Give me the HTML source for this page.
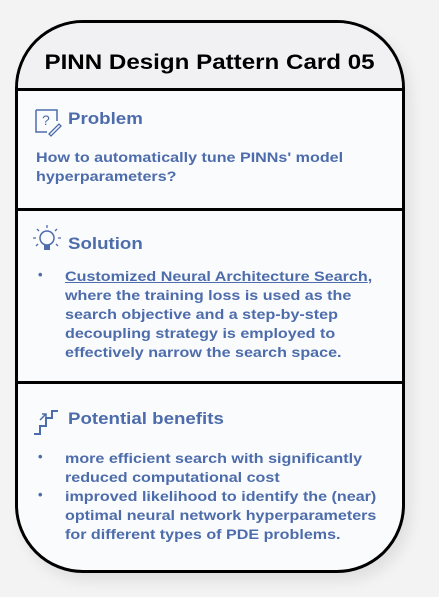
<!DOCTYPE html>
<html><head><meta charset="utf-8"><style>
body{margin:0;width:439px;height:597px;background:#f3f3f3;font-family:"Liberation Sans",Arial,sans-serif;position:relative;overflow:hidden}
.card{position:absolute;left:15px;top:20px;width:384px;height:547px;border:3px solid #000;border-radius:68px;background:#fafbfd;box-shadow:6px 8px 14px rgba(0,0,0,0.08);overflow:hidden}
.title{position:absolute;left:0;width:100%;top:0;height:65px;background:#f1f1f3;border-bottom:3px solid #000;text-align:center;font-weight:bold;font-size:21px;line-height:80px;color:#000}
.title span{display:inline-block;transform:scaleX(1.15)}
.div{position:absolute;left:0;width:100%;border-top:3px solid #000}
.h{position:absolute;left:50px;font-weight:bold;font-size:17px;color:#4d6cab;transform:scaleX(1.1);transform-origin:left}
.t{position:absolute;font-weight:bold;font-size:14px;line-height:19px;color:#4d6cab;white-space:nowrap;transform:scaleX(1.15);transform-origin:left}
.b{position:absolute;left:20px;font-weight:bold;font-size:13px;color:#4d6cab}
svg{position:absolute}
</style></head><body>
<div class="card">
<div class="title"><span>PINN Design Pattern Card 05</span></div>
<svg style="left:15px;top:84px" width="30" height="30" viewBox="0 0 30 30"><path d="M3 3H24V14M3 3V25H14" fill="none" stroke="#4d6cab" stroke-width="1.5"/><text x="9" y="18" font-size="14" fill="#4d6cab" font-family="Liberation Sans">?</text><path d="M16 27L26 17L28 19L18 29Z" fill="none" stroke="#4d6cab" stroke-width="1.3"/></svg>
<div class="h" style="top:86px">Problem</div>
<div class="t" style="left:18px;top:125px">How to automatically tune PINNs' model<br>hyperparameters?</div>
<div class="div" style="top:185px"></div>
<svg style="left:13px;top:200px" width="32" height="40" viewBox="0 0 32 40"><circle cx="16" cy="15" r="7" fill="none" stroke="#4d6cab" stroke-width="1.5"/><rect x="13" y="22" width="6" height="5" fill="#4d6cab"/><path d="M16 2V5M6 6L8 8M26 6L24 8M2 15H5M27 15H30M5 23L7 21M27 23L25 21" stroke="#4d6cab" stroke-width="1.3"/></svg>
<div class="h" style="top:211px">Solution</div>
<div class="b" style="top:244px">•</div>
<div class="t" style="left:47px;top:244px"><span style="text-decoration:underline">Customized Neural Architecture Search</span>,<br>where the training loss is used as the<br>search objective and a step-by-step<br>decoupling strategy is employed to<br>effectively narrow the search space.</div>
<div class="div" style="top:358px"></div>
<svg style="left:14px;top:383px" width="36" height="32" viewBox="0 0 36 32"><path d="M2 28H8V20H14V12H20V5H26" fill="none" stroke="#4d6cab" stroke-width="2"/><path d="M8 14L14 8M10 8H14V12" fill="none" stroke="#4d6cab" stroke-width="1.5"/></svg>
<div class="h" style="top:386px">Potential benefits</div>
<div class="b" style="top:426px">•</div>
<div class="b" style="top:464px">•</div>
<div class="t" style="left:47px;top:426px">more efficient search with significantly<br>reduced computational cost<br>improved likelihood to identify the (near)<br>optimal neural network hyperparameters<br>for different types of PDE problems.</div>
</div>
</body></html>
